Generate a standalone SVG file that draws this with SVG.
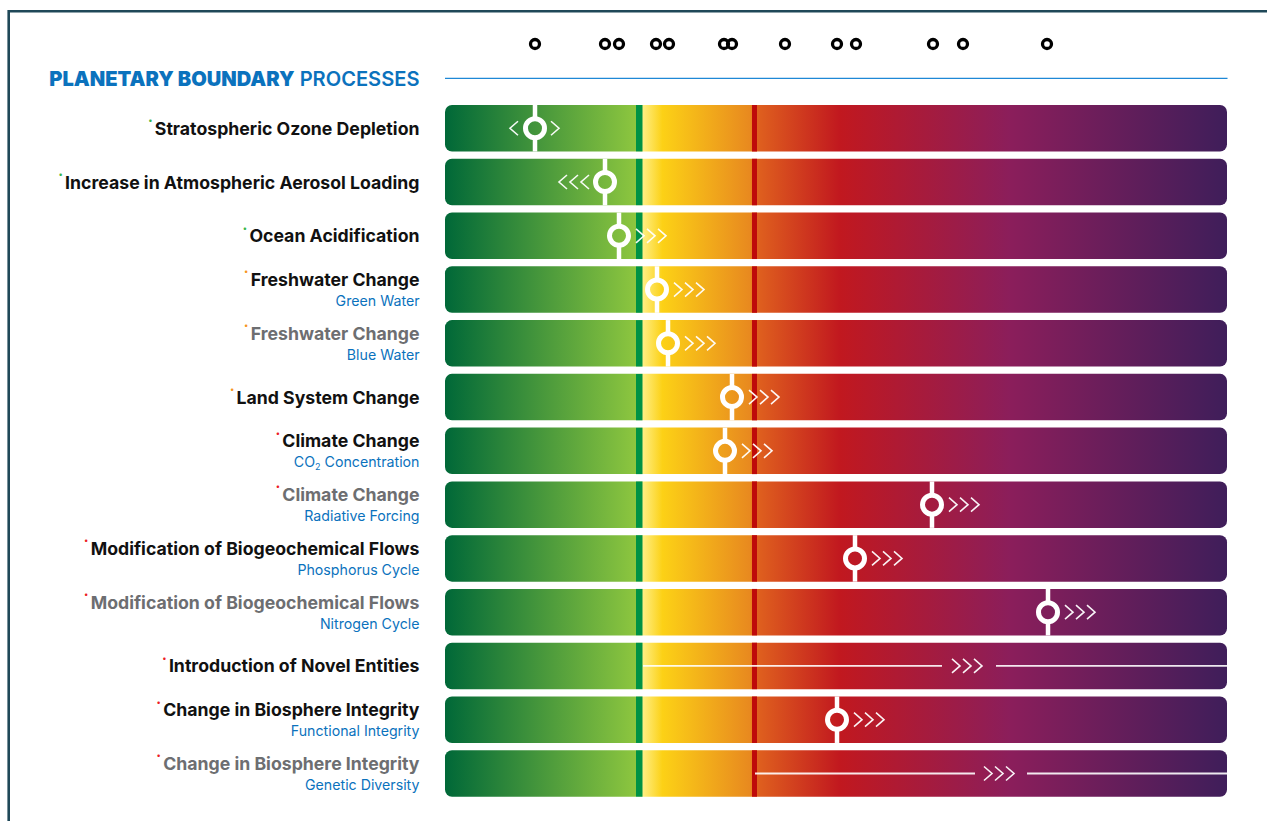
<svg xmlns="http://www.w3.org/2000/svg" xmlns:xlink="http://www.w3.org/1999/xlink" width="1267" height="821" viewBox="0 0 1267 821">
<style>
.lbl{font-family:Inter,"Liberation Sans",sans-serif;font-weight:700;font-size:17.7px;text-anchor:end;fill:#111}
.gray{fill:#6d6e71}
.sub{font-family:Inter,"Liberation Sans",sans-serif;font-weight:400;font-size:14.2px;text-anchor:end;fill:#0b72bd}
.dot{font-size:8px}
.dg{fill:#39b54a}.do{fill:#f7941d}.dr{fill:#ed1c24}
.bar{fill:url(#g)}
.gb{fill:#009245}
.rb{fill:#be0a0a}
.mline{stroke:#fff;stroke-width:4.5}
.ring{fill:url(#g);stroke:#fff;stroke-width:5}
.chev{fill:none;stroke:#fff;stroke-width:1.6;stroke-opacity:0.95}
.tl{stroke:#fff;stroke-opacity:0.9;stroke-width:1.8}
.top{fill:none;stroke:#000;stroke-width:3.3}
</style>
<defs>
<linearGradient id="g" gradientUnits="userSpaceOnUse" x1="445" y1="0" x2="1227" y2="0">
<stop offset="0" stop-color="#006838"/>
<stop offset="0.244" stop-color="#8dc63f"/>
<stop offset="0.2445" stop-color="#fff8a8"/>
<stop offset="0.278" stop-color="#fcd116"/>
<stop offset="0.39" stop-color="#e8891f"/>
<stop offset="0.4" stop-color="#df601e"/>
<stop offset="0.505" stop-color="#c1181f"/>
<stop offset="0.7225" stop-color="#8b1e5b"/>
<stop offset="1" stop-color="#3f1e5a"/>
</linearGradient>
<path id="cr" class="chev" d="M0,-7 L8,0 L0,7"/>
<path id="cl" class="chev" d="M8,-7 L0,0 L8,7"/>
</defs>
<rect width="1267" height="821" fill="#fff"/>
<g id="frame" fill="none" stroke="#1f4858" stroke-width="2.6">
<path d="M8.7,821 V11.3 H1267"/>
</g>
<g id="top-markers">
<circle class="top" cx="535" cy="44" r="4.5"/>
<circle class="top" cx="605" cy="44" r="4.5"/>
<circle class="top" cx="619" cy="44" r="4.5"/>
<circle class="top" cx="656" cy="44" r="4.5"/>
<circle class="top" cx="669" cy="44" r="4.5"/>
<circle class="top" cx="724" cy="44" r="4.5"/>
<circle class="top" cx="732" cy="44" r="4.5"/>
<circle class="top" cx="785" cy="44" r="4.5"/>
<circle class="top" cx="837" cy="44" r="4.5"/>
<circle class="top" cx="856" cy="44" r="4.5"/>
<circle class="top" cx="933" cy="44" r="4.5"/>
<circle class="top" cx="963" cy="44" r="4.5"/>
<circle class="top" cx="1047" cy="44" r="4.5"/>
</g>
<g id="header">
<text x="419.5" y="86" style="font-family:Inter,'Liberation Sans',sans-serif;font-size:20.1px;text-anchor:end;fill:#0b72bd"><tspan font-weight="900">PLANETARY BOUNDARY</tspan><tspan font-weight="600"> PROCESSES</tspan></text>
<line x1="445" y1="78.3" x2="1227.5" y2="78.3" stroke="#1e88d6" stroke-width="1.3"/>
</g>

<g id="row-ozone" transform="translate(0,105)">
<rect class="bar" x="445" y="0" width="782" height="46.5" rx="7"/>
<rect class="gb" x="636" y="0" width="6.5" height="46.5"/><rect class="rb" x="752" y="0" width="5" height="46.5"/>
<line class="mline" x1="535" y1="0" x2="535" y2="46.5"/>
<circle class="ring" cx="535" cy="23.25" r="9.5"/>
<use href="#cl" x="510" y="23.25"/><use href="#cr" x="551" y="23.25"/>
<text class="lbl" x="419.5" y="29.75"><tspan class="dot dg" dy="-11.5">•</tspan><tspan dx="2.5" dy="11.5">Stratospheric Ozone Depletion</tspan></text>
</g>

<g id="row-aerosol" transform="translate(0,158.77)">
<rect class="bar" x="445" y="0" width="782" height="46.5" rx="7"/>
<rect class="gb" x="636" y="0" width="6.5" height="46.5"/><rect class="rb" x="752" y="0" width="5" height="46.5"/>
<line class="mline" x1="605" y1="0" x2="605" y2="46.5"/>
<circle class="ring" cx="605" cy="23.25" r="9.5"/>
<use href="#cl" x="559" y="23.25"/><use href="#cl" x="570" y="23.25"/><use href="#cl" x="581" y="23.25"/>
<text class="lbl" x="419.5" y="29.75"><tspan class="dot dg" dy="-11.5">•</tspan><tspan dx="2.5" dy="11.5">Increase in Atmospheric Aerosol Loading</tspan></text>
</g>

<g id="row-ocean" transform="translate(0,212.54)">
<rect class="bar" x="445" y="0" width="782" height="46.5" rx="7"/>
<rect class="gb" x="636" y="0" width="6.5" height="46.5"/><rect class="rb" x="752" y="0" width="5" height="46.5"/>
<line class="mline" x1="619" y1="0" x2="619" y2="46.5"/>
<circle class="ring" cx="619" cy="23.25" r="9.5"/>
<use href="#cr" x="636" y="23.25"/><use href="#cr" x="647" y="23.25"/><use href="#cr" x="658" y="23.25"/>
<text class="lbl" x="419.5" y="29.75"><tspan class="dot dg" dy="-11.5">•</tspan><tspan dx="2.5" dy="11.5">Ocean Acidification</tspan></text>
</g>

<g id="row-green-water" transform="translate(0,266.31)">
<rect class="bar" x="445" y="0" width="782" height="46.5" rx="7"/>
<rect class="gb" x="636" y="0" width="6.5" height="46.5"/><rect class="rb" x="752" y="0" width="5" height="46.5"/>
<line class="mline" x1="657" y1="0" x2="657" y2="46.5"/>
<circle class="ring" cx="657" cy="23.25" r="9.5"/>
<use href="#cr" x="674" y="23.25"/><use href="#cr" x="685" y="23.25"/><use href="#cr" x="696" y="23.25"/>
<text class="lbl" x="419.5" y="19.6"><tspan class="dot do" dy="-11.5">•</tspan><tspan dx="2.5" dy="11.5">Freshwater Change</tspan></text>
<text class="sub" x="419.5" y="39.6">Green Water</text>
</g>

<g id="row-blue-water" transform="translate(0,320.08)">
<rect class="bar" x="445" y="0" width="782" height="46.5" rx="7"/>
<rect class="gb" x="636" y="0" width="6.5" height="46.5"/><rect class="rb" x="752" y="0" width="5" height="46.5"/>
<line class="mline" x1="668" y1="0" x2="668" y2="46.5"/>
<circle class="ring" cx="668" cy="23.25" r="9.5"/>
<use href="#cr" x="685" y="23.25"/><use href="#cr" x="696" y="23.25"/><use href="#cr" x="707" y="23.25"/>
<text class="lbl gray" x="419.5" y="19.6"><tspan class="dot do" dy="-11.5">•</tspan><tspan dx="2.5" dy="11.5">Freshwater Change</tspan></text>
<text class="sub" x="419.5" y="39.6">Blue Water</text>
</g>

<g id="row-land" transform="translate(0,373.85)">
<rect class="bar" x="445" y="0" width="782" height="46.5" rx="7"/>
<rect class="gb" x="636" y="0" width="6.5" height="46.5"/><rect class="rb" x="752" y="0" width="5" height="46.5"/>
<line class="mline" x1="732" y1="0" x2="732" y2="46.5"/>
<circle class="ring" cx="732" cy="23.25" r="9.5"/>
<use href="#cr" x="749" y="23.25"/><use href="#cr" x="760" y="23.25"/><use href="#cr" x="771" y="23.25"/>
<text class="lbl" x="419.5" y="29.75"><tspan class="dot do" dy="-11.5">•</tspan><tspan dx="2.5" dy="11.5">Land System Change</tspan></text>
</g>

<g id="row-co2" transform="translate(0,427.62)">
<rect class="bar" x="445" y="0" width="782" height="46.5" rx="7"/>
<rect class="gb" x="636" y="0" width="6.5" height="46.5"/><rect class="rb" x="752" y="0" width="5" height="46.5"/>
<line class="mline" x1="725" y1="0" x2="725" y2="46.5"/>
<circle class="ring" cx="725" cy="23.25" r="9.5"/>
<use href="#cr" x="742" y="23.25"/><use href="#cr" x="753" y="23.25"/><use href="#cr" x="764" y="23.25"/>
<text class="lbl" x="419.5" y="19.6"><tspan class="dot dr" dy="-11.5">•</tspan><tspan dx="2.5" dy="11.5">Climate Change</tspan></text>
<text class="sub" x="419.5" y="39.6">CO<tspan font-size="9px" dy="2.5">2</tspan><tspan dy="-2.5"> Concentration</tspan></text>
</g>

<g id="row-radiative" transform="translate(0,481.39)">
<rect class="bar" x="445" y="0" width="782" height="46.5" rx="7"/>
<rect class="gb" x="636" y="0" width="6.5" height="46.5"/><rect class="rb" x="752" y="0" width="5" height="46.5"/>
<line class="mline" x1="932" y1="0" x2="932" y2="46.5"/>
<circle class="ring" cx="932" cy="23.25" r="9.5"/>
<use href="#cr" x="949" y="23.25"/><use href="#cr" x="960" y="23.25"/><use href="#cr" x="971" y="23.25"/>
<text class="lbl gray" x="419.5" y="19.6"><tspan class="dot dr" dy="-11.5">•</tspan><tspan dx="2.5" dy="11.5">Climate Change</tspan></text>
<text class="sub" x="419.5" y="39.6">Radiative Forcing</text>
</g>

<g id="row-phosphorus" transform="translate(0,535.16)">
<rect class="bar" x="445" y="0" width="782" height="46.5" rx="7"/>
<rect class="gb" x="636" y="0" width="6.5" height="46.5"/><rect class="rb" x="752" y="0" width="5" height="46.5"/>
<line class="mline" x1="855" y1="0" x2="855" y2="46.5"/>
<circle class="ring" cx="855" cy="23.25" r="9.5"/>
<use href="#cr" x="872" y="23.25"/><use href="#cr" x="883" y="23.25"/><use href="#cr" x="894" y="23.25"/>
<text class="lbl" x="419.5" y="19.6"><tspan class="dot dr" dy="-11.5">•</tspan><tspan dx="2.5" dy="11.5">Modification of Biogeochemical Flows</tspan></text>
<text class="sub" x="419.5" y="39.6">Phosphorus Cycle</text>
</g>

<g id="row-nitrogen" transform="translate(0,588.93)">
<rect class="bar" x="445" y="0" width="782" height="46.5" rx="7"/>
<rect class="gb" x="636" y="0" width="6.5" height="46.5"/><rect class="rb" x="752" y="0" width="5" height="46.5"/>
<line class="mline" x1="1048" y1="0" x2="1048" y2="46.5"/>
<circle class="ring" cx="1048" cy="23.25" r="9.5"/>
<use href="#cr" x="1065" y="23.25"/><use href="#cr" x="1076" y="23.25"/><use href="#cr" x="1087" y="23.25"/>
<text class="lbl gray" x="419.5" y="19.6"><tspan class="dot dr" dy="-11.5">•</tspan><tspan dx="2.5" dy="11.5">Modification of Biogeochemical Flows</tspan></text>
<text class="sub" x="419.5" y="39.6">Nitrogen Cycle</text>
</g>

<g id="row-novel" transform="translate(0,642.7)">
<rect class="bar" x="445" y="0" width="782" height="46.5" rx="7"/>
<rect class="gb" x="636" y="0" width="6.5" height="46.5"/><rect class="rb" x="752" y="0" width="5" height="46.5"/>
<line class="tl" x1="643" y1="23.25" x2="942" y2="23.25"/>
<line class="tl" x1="996" y1="23.25" x2="1227" y2="23.25"/>
<use href="#cr" x="952" y="23.25"/><use href="#cr" x="963" y="23.25"/><use href="#cr" x="974" y="23.25"/>
<text class="lbl" x="419.5" y="29.75"><tspan class="dot dr" dy="-11.5">•</tspan><tspan dx="2.5" dy="11.5">Introduction of Novel Entities</tspan></text>
</g>

<g id="row-functional" transform="translate(0,696.47)">
<rect class="bar" x="445" y="0" width="782" height="46.5" rx="7"/>
<rect class="gb" x="636" y="0" width="6.5" height="46.5"/><rect class="rb" x="752" y="0" width="5" height="46.5"/>
<line class="mline" x1="837" y1="0" x2="837" y2="46.5"/>
<circle class="ring" cx="837" cy="23.25" r="9.5"/>
<use href="#cr" x="854" y="23.25"/><use href="#cr" x="865" y="23.25"/><use href="#cr" x="876" y="23.25"/>
<text class="lbl" x="419.5" y="19.6"><tspan class="dot dr" dy="-11.5">•</tspan><tspan dx="2.5" dy="11.5">Change in Biosphere Integrity</tspan></text>
<text class="sub" x="419.5" y="39.6">Functional Integrity</text>
</g>

<g id="row-genetic" transform="translate(0,750.24)">
<rect class="bar" x="445" y="0" width="782" height="46.5" rx="7"/>
<rect class="gb" x="636" y="0" width="6.5" height="46.5"/><rect class="rb" x="752" y="0" width="5" height="46.5"/>
<line class="tl" x1="755" y1="23.25" x2="975" y2="23.25"/>
<line class="tl" x1="1027" y1="23.25" x2="1227" y2="23.25"/>
<use href="#cr" x="984" y="23.25"/><use href="#cr" x="995" y="23.25"/><use href="#cr" x="1006" y="23.25"/>
<text class="lbl gray" x="419.5" y="19.6"><tspan class="dot dr" dy="-11.5">•</tspan><tspan dx="2.5" dy="11.5">Change in Biosphere Integrity</tspan></text>
<text class="sub" x="419.5" y="39.6">Genetic Diversity</text>
</g>
</svg>
